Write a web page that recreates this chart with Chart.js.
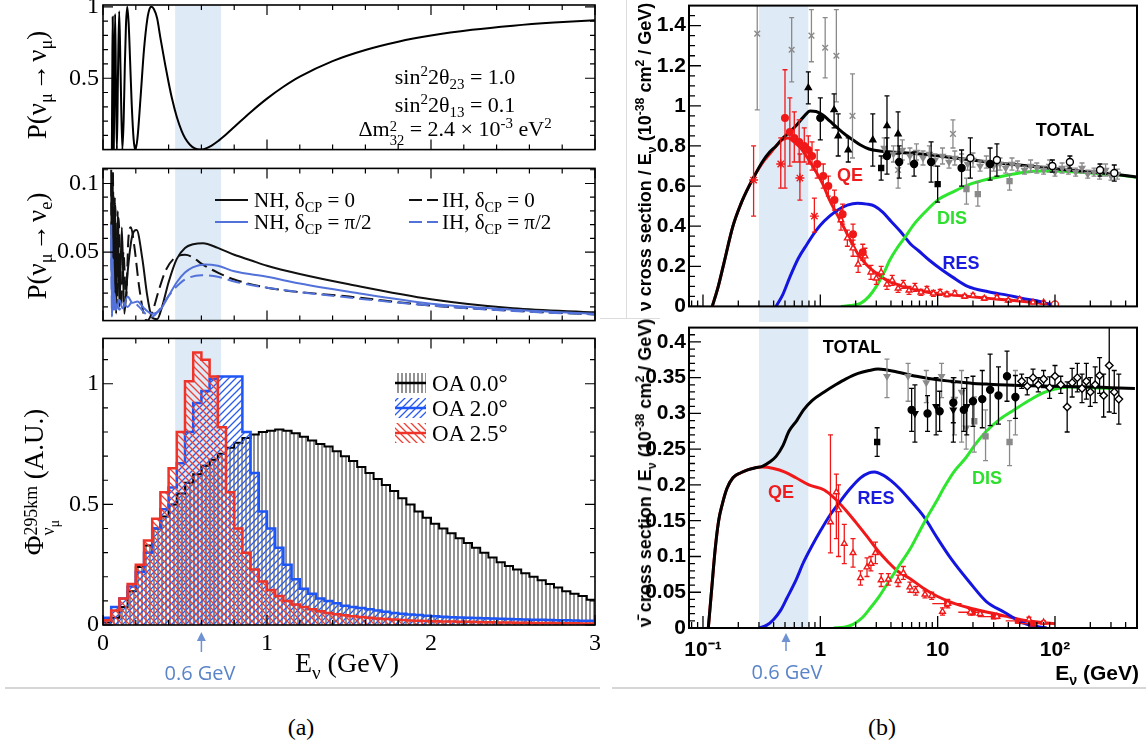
<!DOCTYPE html>
<html><head><meta charset="utf-8"><title>Oscillation, flux and cross sections</title>
<script src="https://cdn.jsdelivr.net/npm/chart.js@4.4.1/dist/chart.umd.min.js"></script>
<style>
html,body{margin:0;padding:0;background:#fff;}
body{width:1146px;height:749px;position:relative;overflow:hidden;}
canvas{position:absolute;}
.t{position:absolute;white-space:nowrap;line-height:1;}
.serif{font-family:'Liberation Serif','DejaVu Serif',serif;color:#000;}
.sans{font-family:'Liberation Sans',Arial,sans-serif;}
.b{font-weight:bold;}
.rot{transform:translate(-50%,-50%) rotate(-90deg);}
.ctr{transform:translate(-50%,-50%);}
.vm{transform:translateY(-50%);}
sub,sup{font-size:68%;line-height:0;}
.ss{display:inline-flex;flex-direction:column;font-size:66%;line-height:1.0;vertical-align:0.36em;text-align:left;}
.ss sub{font-size:80%;}
.gv{font-family:'Open Sans','Liberation Sans',sans-serif;font-size:20px;color:#5a84c8;}
</style></head>
<body>
<canvas id="cTL"></canvas><canvas id="cML"></canvas><canvas id="cBL"></canvas>
<canvas id="cTR"></canvas><canvas id="cBR"></canvas>

<div style="position:absolute;left:626px;top:0;width:1px;height:318px;background:#dcdcdc"></div>
<div style="position:absolute;left:600px;top:318px;width:60px;height:1px;background:#dcdcdc"></div>

<!-- panel (a) texts -->
<div class="t serif rot" style="left:37px;top:85px;font-size:27px">P(ν<sub>μ</sub>&#8202;→&#8202;ν<sub>μ</sub>)</div>
<div class="t serif rot" style="left:37px;top:246px;font-size:27px">P(ν<sub>μ</sub>&#8202;→&#8202;ν<sub>e</sub>)</div>
<div class="t serif rot" style="left:40px;top:482px;font-size:27px">Φ<span class="ss"><span>295km</span><span>ν<sub>μ</sub></span></span> (A.U.)</div>

<div class="t serif ctr" style="left:455px;top:77px;font-size:22px">sin<sup>2</sup>2θ<sub>23</sub> = 1.0</div>
<div class="t serif ctr" style="left:455px;top:105px;font-size:22px">sin<sup>2</sup>2θ<sub>13</sub> = 0.1</div>
<div class="t serif ctr" style="left:455px;top:133px;font-size:22px">Δm<span class="ss"><span>2</span><span>32</span></span> = 2.4 × 10<sup>-3</sup> eV<sup>2</sup></div>

<div class="t serif vm" style="left:254px;top:200px;font-size:21px">NH, δ<sub>CP</sub> = 0</div>
<div class="t serif vm" style="left:254px;top:222px;font-size:21px">NH, δ<sub>CP</sub> = π/2</div>
<div class="t serif vm" style="left:442px;top:200px;font-size:21px">IH, δ<sub>CP</sub> = 0</div>
<div class="t serif vm" style="left:442px;top:222px;font-size:21px">IH, δ<sub>CP</sub> = π/2</div>

<div class="t serif vm" style="left:432px;top:383px;font-size:23px">OA 0.0°</div>
<div class="t serif vm" style="left:432px;top:408px;font-size:23px">OA 2.0°</div>
<div class="t serif vm" style="left:432px;top:433px;font-size:23px">OA 2.5°</div>

<div class="t serif ctr" style="left:347px;top:663px;font-size:28px">E<sub>ν</sub> (GeV)</div>
<div class="t gv ctr" style="left:200px;top:673px">0.6 GeV</div>

<!-- panel (b) texts -->
<div class="t sans b rot" style="left:645px;top:157px;font-size:18px">ν cross section / E<sub>ν</sub> (10<sup>-38</sup> cm<sup>2</sup> / GeV)</div>
<div class="t sans b rot" style="left:645px;top:473px;font-size:18px">ν̄ cross section / E<sub>ν</sub> (10<sup>-38</sup> cm<sup>2</sup> / GeV)</div>

<div class="t sans b ctr" style="left:850px;top:175px;font-size:18px;color:#ee1c1c">QE</div>
<div class="t sans b ctr" style="left:952px;top:218px;font-size:18px;color:#2ee02e">DIS</div>
<div class="t sans b ctr" style="left:961px;top:263px;font-size:18px;color:#1a1ae0">RES</div>
<div class="t sans b ctr" style="left:1065px;top:130px;font-size:18px;color:#000">TOTAL</div>

<div class="t sans b ctr" style="left:852px;top:347px;font-size:18px;color:#000">TOTAL</div>
<div class="t sans b ctr" style="left:781px;top:492px;font-size:18px;color:#ee1c1c">QE</div>
<div class="t sans b ctr" style="left:876px;top:498px;font-size:18px;color:#1a1ae0">RES</div>
<div class="t sans b ctr" style="left:987px;top:478px;font-size:18px;color:#2ee02e">DIS</div>

<div class="t sans b vm" style="right:7px;top:672px;font-size:21px">E<sub>ν</sub> (GeV)</div>
<div class="t gv ctr" style="left:787px;top:672px">0.6 GeV</div>

<div style="position:absolute;left:5px;top:687px;width:595px;height:2px;background:#d6d6d6"></div>
<div style="position:absolute;left:612px;top:687px;width:534px;height:2px;background:#d6d6d6"></div>
<div class="t serif ctr" style="left:301px;top:727px;font-size:24px">(a)</div>
<div class="t serif ctr" style="left:882px;top:727px;font-size:24px">(b)</div>

<script>
// ---------------- DATA ----------------
// (a) top: P(numu -> numu)
const numuE = [0.054,0.0565,0.0592,0.062,0.0658,0.069,0.074,0.079,0.0846,0.091,0.0987,0.107,0.118,0.126,0.133,0.14,0.148,0.157,0.165,0.175,0.187,0.197,0.21,0.23,0.25,0.27,0.285,0.296,0.31,0.33,0.35,0.38,0.40,0.42,0.45,0.48,0.50,0.53,0.56,0.59,0.62,0.66,0.70,0.75,0.80,0.90,1.0,1.1,1.2,1.4,1.6,1.8,2.0,2.25,2.5,2.75,3.0];
const numuP = [0.0,0.5,0.93,0.5,0.0,0.45,0.95,0.45,0.0,0.5,0.97,0.55,0.0,0.21,0.58,0.87,1.0,0.87,0.63,0.32,0.07,0.0,0.078,0.381,0.701,0.913,0.99,1.0,0.985,0.92,0.783,0.59,0.47,0.361,0.228,0.129,0.081,0.034,0.008,0.0,0.005,0.026,0.058,0.106,0.158,0.262,0.357,0.44,0.511,0.62,0.698,0.756,0.799,0.839,0.868,0.89,0.907];

// (a) middle: P(numu -> nue)
const nh0E = [0.05,0.055,0.06,0.065,0.072,0.08,0.09,0.1,0.115,0.13,0.15,0.175,0.205,0.24,0.27,0.3,0.33,0.36,0.4,0.45,0.5,0.55,0.61,0.7,0.8,0.9,1.0,1.2,1.5,2.0,2.5,3.0];
const nh0P = [0.11,0.02,0.10,0.01,0.09,0.005,0.08,0.01,0.068,0.005,0.035,0.06,0.066,0.045,0.018,0.002,0.001,0.01,0.028,0.045,0.053,0.0557,0.0565,0.053,0.048,0.044,0.040,0.034,0.0265,0.0156,0.009,0.006];
const ih0E = [0.05,0.055,0.06,0.067,0.075,0.085,0.095,0.11,0.125,0.14,0.155,0.17,0.19,0.22,0.25,0.27,0.3,0.34,0.38,0.43,0.5,0.55,0.6,0.7,0.8,1.0,1.5,2.0,2.5,3.0];
const ih0P = [0.10,0.03,0.11,0.02,0.085,0.01,0.075,0.01,0.05,0.015,0.06,0.068,0.055,0.025,0.004,0.0,0.006,0.022,0.036,0.045,0.048,0.046,0.0415,0.035,0.030,0.024,0.0175,0.011,0.0072,0.0045];
const nhpE = [0.05,0.055,0.06,0.065,0.07,0.08,0.1,0.12,0.15,0.18,0.21,0.25,0.3,0.35,0.4,0.45,0.5,0.55,0.62,0.7,0.8,1.0,1.2,1.5,2.0,2.5,3.0];
const nhpP = [0.07,0.005,0.045,0.01,0.02,0.008,0.015,0.009,0.0175,0.013,0.014,0.009,0.005,0.008,0.018,0.028,0.035,0.039,0.041,0.04,0.036,0.032,0.027,0.021,0.0123,0.008,0.005];
const ihpE = [0.05,0.055,0.06,0.07,0.08,0.1,0.12,0.15,0.18,0.22,0.27,0.3,0.35,0.4,0.45,0.5,0.6,0.7,0.8,1.0,1.5,2.0,2.5,3.0];
const ihpP = [0.06,0.003,0.03,0.006,0.012,0.008,0.013,0.01,0.014,0.01,0.004,0.003,0.009,0.018,0.025,0.03,0.033,0.032,0.0285,0.024,0.0168,0.011,0.007,0.0045];

// (a) bottom: flux histograms, 0.05 GeV bins from 0 to 3 GeV
const binW = 0.05;
const oa00 = [0.01,0.03,0.075,0.14,0.24,0.33,0.40,0.45,0.50,0.545, 0.59,0.625,0.66,0.685,0.71,0.735,0.755,0.775,0.79,0.80, 0.805,0.81,0.805,0.795,0.78,0.765,0.75,0.74,0.72,0.70, 0.68,0.655,0.63,0.605,0.58,0.555,0.525,0.50,0.47,0.445, 0.42,0.40,0.38,0.36,0.34,0.32,0.30,0.28,0.26,0.245, 0.23,0.215,0.20,0.185,0.17,0.155,0.14,0.13,0.12,0.105];
const oa20 = [0.03,0.075,0.11,0.16,0.22,0.30,0.40,0.48,0.57,0.67, 0.80,0.92,0.97,1.02,1.03,1.03,1.03,0.80,0.63,0.47, 0.40,0.32,0.25,0.19,0.15,0.13,0.11,0.10,0.09,0.08, 0.075,0.07,0.065,0.06,0.055,0.05,0.047,0.044,0.041,0.038, 0.036,0.034,0.032,0.031,0.03,0.029,0.028,0.027,0.026,0.025, 0.024,0.023,0.022,0.022,0.021,0.02,0.02,0.019,0.018,0.018];
const oa25 = [0.02,0.06,0.11,0.17,0.25,0.35,0.44,0.55,0.65,0.80, 1.01,1.13,1.10,1.03,0.82,0.55,0.40,0.30,0.23,0.18, 0.145,0.12,0.10,0.085,0.075,0.065,0.057,0.05,0.045,0.04, 0.036,0.033,0.03,0.027,0.025,0.023,0.021,0.019,0.018,0.017, 0.016,0.015,0.014,0.013,0.013,0.012,0.011,0.011,0.01,0.01, 0.009,0.009,0.008,0.008,0.008,0.007,0.007,0.007,0.006,0.006];

const leftBand = [0.44, 0.72];
const leftArrowE = 0.6;
const leftXTicks = [0, 1, 2, 3];
const leftXLabels = ['0', '1', '2', '3'];
const tlYTicks = [0.5, 1];       const tlYLabels = ['0.5', '1'];
const mlYTicks = [0.05, 0.1];    const mlYLabels = ['0.05', '0.1'];
const blYTicks = [0, 0.5, 1];    const blYLabels = ['0', '0.5', '1'];

// (b) top: neutrino cross section / E
const nuTotE = [0.12,0.135,0.15,0.18,0.21,0.24,0.28,0.32,0.37,0.42,0.48,0.55,0.64,0.72,0.82,0.92,1.05,1.2,1.4,1.65,1.9,2.2,2.6,3.2,4,5.5,8,12,18,27,40,60,100,160,250,350,500];
const nuTotY = [0,0.1,0.21,0.40,0.51,0.585,0.66,0.72,0.77,0.80,0.84,0.87,0.91,0.945,0.975,0.972,0.955,0.925,0.89,0.855,0.83,0.805,0.785,0.775,0.77,0.765,0.757,0.745,0.732,0.72,0.71,0.70,0.686,0.675,0.665,0.656,0.645];
const nuQEE = [0.12,0.135,0.15,0.18,0.21,0.24,0.28,0.32,0.37,0.42,0.47,0.53,0.6,0.68,0.78,0.9,1.05,1.2,1.4,1.6,1.8,2.1,2.5,3,3.7,4.5,5.8,8,12,18,27,40,60,80,100];
const nuQEY = [0,0.1,0.21,0.40,0.51,0.585,0.66,0.715,0.76,0.80,0.83,0.84,0.82,0.79,0.74,0.68,0.61,0.53,0.455,0.39,0.33,0.26,0.205,0.165,0.13,0.11,0.09,0.072,0.06,0.05,0.04,0.032,0.022,0.015,0.01];
const nuRESE = [0.42,0.48,0.55,0.65,0.77,0.9,1.0,1.2,1.4,1.7,2.07,2.5,2.9,3.4,4.0,4.8,5.9,6.8,8.5,11,13.4,18,27,40,53,70,93];
const nuRESY = [0,0.06,0.146,0.24,0.31,0.37,0.405,0.45,0.48,0.505,0.515,0.51,0.50,0.47,0.425,0.375,0.31,0.28,0.23,0.18,0.146,0.10,0.073,0.055,0.04,0.028,0.008];
const nuDISE = [1.5,1.8,2.2,2.6,3.0,3.5,3.9,4.5,5.2,6.3,7.8,10,13.4,18,27,40,53,80,120,200,350,500];
const nuDISY = [0,0.004,0.015,0.05,0.10,0.17,0.23,0.29,0.34,0.41,0.47,0.53,0.57,0.605,0.635,0.655,0.668,0.675,0.674,0.665,0.655,0.643];

// (b) top: measurements
const nuXE = [0.29,0.57,0.84,1.10,1.37,1.88,4.6,13.5];
const nuXY = [1.36,1.28,1.35,1.29,1.25,0.95,0.68,0.86];
const nuXLo = [0.98,1.12,1.22,1.14,1.02,0.74,0.59,0.79];
const nuXHi = [1.50,1.44,1.48,1.44,1.48,1.16,0.77,0.93];
const nuTriE = [0.79,1.31,1.42,1.73,2.8,3.7,4.6];
const nuTriY = [1.09,0.98,0.85,0.78,0.83,0.90,0.86];
const nuTriLo = [1.01,0.89,0.75,0.72,0.70,0.75,0.76];
const nuTriHi = [1.17,1.06,0.96,0.84,0.96,1.05,0.97];
const nuCirE = [1.0,3.7,4.7,6.3,8.8,16,28];
const nuCirY = [0.94,0.75,0.72,0.71,0.72,0.69,0.71];
const nuCirLo = [0.83,0.66,0.64,0.65,0.62,0.60,0.63];
const nuCirHi = [1.04,0.84,0.80,0.77,0.82,0.78,0.79];
const nuSqE = [3.3,10];
const nuSqY = [0.69,0.61];
const nuSqLo = [0.63,0.52];
const nuSqHi = [0.75,0.70];
const nuGsE = [17.6,22,41];
const nuGsY = [0.585,0.56,0.625];
const nuGsLo = [0.51,0.50,0.58];
const nuGsHi = [0.64,0.62,0.66];
const nuGdE = [3.5,4.2,5,5.8,6.6,7.5,8.5,9.5,11,12.5,14,16,18,20,23,26,30,34,38,43,48,55,62,70,80,90,100,115,130,150,170,190,215,240,270,300,340];
const nuGdY = [0.79,0.76,0.78,0.75,0.77,0.74,0.76,0.73,0.75,0.72,0.74,0.73,0.71,0.73,0.70,0.72,0.70,0.71,0.69,0.71,0.70,0.68,0.70,0.69,0.68,0.70,0.67,0.69,0.68,0.67,0.69,0.66,0.67,0.66,0.68,0.65,0.66];
const nuGdErr = [0.05,0.04,0.05,0.04,0.04,0.035,0.04,0.03,0.04,0.03,0.035,0.03,0.03,0.035,0.025,0.03,0.025,0.03,0.025,0.03,0.025,0.02,0.03,0.025,0.02,0.03,0.02,0.025,0.02,0.02,0.025,0.02,0.02,0.025,0.03,0.02,0.025];
const nuOcE = [19,32,95,134,242,320];
const nuOcY = [0.74,0.73,0.70,0.72,0.68,0.665];
const nuOcErr = [0.1,0.08,0.03,0.03,0.03,0.04];
const nuRcE = [0.50,0.55,0.60,0.66,0.73,0.79,0.85,0.94,1.06,1.17,1.32,1.55,1.9,2.3];
const nuRcY = [0.94,0.87,0.84,0.82,0.80,0.78,0.75,0.71,0.65,0.60,0.53,0.46,0.36,0.27];
const nuRcLo = [0.59,0.70,0.72,0.72,0.72,0.71,0.68,0.64,0.59,0.55,0.48,0.41,0.31,0.23];
const nuRcHi = [1.18,1.04,0.97,0.93,0.89,0.85,0.82,0.78,0.71,0.65,0.58,0.51,0.41,0.31];
const nuRsE = [0.27,0.46,0.67,0.89];
const nuRsY = [0.63,0.71,0.64,0.45];
const nuRsLo = [0.45,0.59,0.53,0.37];
const nuRsHi = [0.80,0.84,0.76,0.54];
const nuRtE = [1.5,1.7,1.9,2.1,2.4,2.7,3.0,3.3,3.7,4.1,4.6,5.1,5.7,6.4,7.2,8.1,9.2,10.5,12,14,17,20,25,32,40,50,65,80];
const nuRtY = [0.43,0.34,0.29,0.21,0.25,0.17,0.14,0.17,0.11,0.13,0.09,0.11,0.08,0.095,0.07,0.085,0.065,0.07,0.06,0.065,0.05,0.055,0.04,0.045,0.03,0.035,0.02,0.02];
const nuRtErr = [0.05,0.04,0.04,0.04,0.04,0.035,0.03,0.03,0.025,0.025,0.02,0.02,0.02,0.02,0.015,0.015,0.015,0.015,0.012,0.012,0.01,0.01,0.01,0.01,0.008,0.008,0.006,0.006];
const nuRoE = [100];
const nuRoY = [0.01];

// (b) bottom: antineutrino cross section / E
const nbTotE = [0.111,0.118,0.127,0.136,0.146,0.16,0.18,0.21,0.24,0.28,0.32,0.37,0.42,0.48,0.54,0.63,0.72,0.85,1.08,1.35,1.64,2.1,2.6,3.1,3.6,4.5,6.6,10,13,20,26,50,105,200,300,480];
const nbTotY = [0,0.05,0.11,0.15,0.173,0.195,0.21,0.217,0.221,0.224,0.226,0.232,0.24,0.255,0.275,0.29,0.305,0.318,0.33,0.34,0.348,0.356,0.36,0.362,0.361,0.358,0.352,0.347,0.345,0.342,0.341,0.339,0.338,0.337,0.336,0.335];
const nbQEE = [0.111,0.118,0.127,0.136,0.146,0.16,0.18,0.21,0.24,0.28,0.32,0.4,0.5,0.62,0.8,1.08,1.35,1.64,2.0,2.5,3.1,3.8,4.6,5.7,7.5,10,14,18.7,25,37,50,74,100];
const nbQEY = [0,0.05,0.11,0.15,0.173,0.195,0.21,0.217,0.221,0.224,0.225,0.223,0.218,0.21,0.2,0.193,0.18,0.165,0.148,0.128,0.108,0.092,0.079,0.07,0.056,0.044,0.034,0.028,0.023,0.017,0.012,0.008,0.006];
const nbRESE = [0.30,0.35,0.40,0.46,0.52,0.62,0.72,0.85,1.02,1.2,1.43,1.8,2.2,2.6,2.9,3.4,4.0,4.8,5.8,7.6,10,13,18.7,26,37,52,70,85];
const nbRESY = [0,0.004,0.012,0.025,0.042,0.067,0.092,0.115,0.138,0.157,0.174,0.195,0.21,0.217,0.218,0.214,0.206,0.194,0.179,0.156,0.125,0.097,0.064,0.037,0.022,0.008,0.002,0];
const nbDISE = [1.3,1.6,1.9,2.3,2.7,3.2,3.8,4.6,5.8,7,8.2,10,11.4,14,17.4,21,26,34,45,60,80,100,130,200,300];
const nbDISY = [0,0.001,0.005,0.015,0.029,0.045,0.064,0.085,0.11,0.135,0.156,0.18,0.197,0.22,0.238,0.257,0.275,0.292,0.305,0.318,0.329,0.334,0.337,0.336,0.335];

// (b) bottom: measurements
const nbSqE = [3.05];  const nbSqY = [0.26];  const nbSqLo = [0.24];  const nbSqHi = [0.28];
const nbGtE = [3.7,5.6,8.0,10.8,13.9,16,17.5,46];
const nbGtY = [0.352,0.352,0.343,0.352,0.32,0.33,0.28,0.32];
const nbGtLo = [0.322,0.317,0.315,0.322,0.27,0.26,0.25,0.27];
const nbGtHi = [0.376,0.37,0.36,0.37,0.35,0.36,0.31,0.36];
const nbBtE = [6.4,9.7,13.6,17.7];
const nbBtY = [0.30,0.31,0.305,0.31];
const nbBtErr = [0.04,0.04,0.045,0.04];
const nbCirE = [6.0,8.2,10.4,13.6,16.7,20,24,28,33,39,46];
const nbCirY = [0.305,0.30,0.303,0.315,0.305,0.317,0.32,0.333,0.325,0.352,0.323];
const nbCirErr = [0.03,0.025,0.028,0.028,0.03,0.035,0.04,0.05,0.04,0.035,0.03];
const nbGsE = [20.5,25.6,41];
const nbGsY = [0.289,0.268,0.26];
const nbGsLo = [0.246,0.234,0.227];
const nbGsHi = [0.323,0.305,0.29];
const nbOpE = [52,58,65,72,80,90,100,112,127,140,155,170,185,200,220,240,260,290,320,350];
const nbOpY = [0.345,0.338,0.35,0.34,0.348,0.336,0.352,0.34,0.309,0.343,0.35,0.335,0.345,0.33,0.34,0.353,0.325,0.367,0.33,0.32];
const nbOpErr = [0.01,0.012,0.012,0.01,0.012,0.015,0.015,0.012,0.035,0.02,0.02,0.02,0.025,0.02,0.025,0.025,0.03,0.065,0.03,0.035];
const nbRtE = [1.22,1.37,1.43,1.6,1.9,2.2,2.5,2.7,2.95,3.3,3.8,4.6,5.1,5.8,6.5,7.8,8.9,11,12.2,19,23,32,60,80];
const nbRtY = [0.148,0.19,0.165,0.118,0.105,0.07,0.085,0.09,0.105,0.067,0.068,0.066,0.077,0.057,0.052,0.047,0.045,0.023,0.034,0.022,0.02,0.016,0.012,0.008];
const nbRtLo = [0.105,0.125,0.10,0.09,0.085,0.06,0.072,0.08,0.09,0.058,0.06,0.058,0.068,0.05,0.046,0.042,0.04,0.018,0.028,0.018,0.016,0.013,0.009,0.006];
const nbRtHi = [0.27,0.215,0.20,0.145,0.125,0.08,0.098,0.10,0.12,0.076,0.076,0.074,0.086,0.064,0.058,0.052,0.05,0.028,0.04,0.026,0.024,0.019,0.015,0.01];
const nbRsE = [12,20,30,48,65];
const nbRsY = [0.034,0.022,0.016,0.01,0.006];
const nbRsErr = [0.004,0.004,0.003,0.003,0.003];
const nbRsXLo = [9,15,24,38,50];
const nbRsXHi = [16,26,38,60,100];

const rightBand = [0.3, 0.79];
const rightArrowE = 0.51;
const rightXTicks = [0.1, 1, 10, 100];
const rightXLabels = ['10⁻¹', '1', '10', '10²'];
const rightXMinor = [0.08,0.09,0.2,0.3,0.4,0.5,0.6,0.7,0.8,0.9,2,3,4,5,6,7,8,9,20,30,40,50,60,70,80,90,200,300,400,500];
const trYTicks = [0,0.2,0.4,0.6,0.8,1,1.2,1.4];
const trYLabels = ['0','0.2','0.4','0.6','0.8','1','1.2','1.4'];
const brYTicks = [0,0.05,0.1,0.15,0.2,0.25,0.3,0.35,0.4];
const brYLabels = ['0','0.05','0.1','0.15','0.2','0.25','0.3','0.35','0.4'];

// ---------------- HELPERS ----------------
function seq(a, b, s, majorStep){ const r=[]; for(let k=0;;k++){ const v=+(a+k*s).toFixed(5); if(v>b+1e-9) break; const q=v/majorStep; if(Math.abs(q-Math.round(q))>1e-6) r.push(v);} return r; }
const pts = (xs, ys) => xs.map((x,i)=>({x, y:ys[i]}));
const ept = (xs, ys, lo, hi) => xs.map((x,i)=>({x, y:ys[i], lo:lo[i], hi:hi[i]}));
const eps = (xs, ys, e) => xs.map((x,i)=>({x, y:ys[i], lo:ys[i]-e[i], hi:ys[i]+e[i]}));
function histPts(v){ const p=[{x:0,y:0}]; v.forEach((y,i)=>p.push({x:+(i*binW).toFixed(4), y})); p.push({x:+(v.length*binW).toFixed(4), y:v[v.length-1]}); return p; }

function hatch(color, kind, size, lw){
  const c=document.createElement('canvas'); c.width=size; c.height=size; const g=c.getContext('2d');
  g.strokeStyle=color; g.lineWidth=lw; g.beginPath();
  if(kind==='v'){ g.moveTo(size/2,0); g.lineTo(size/2,size); }
  else if(kind==='/'){ g.moveTo(0,size); g.lineTo(size,0); g.moveTo(-size/2,size/2); g.lineTo(size/2,-size/2); g.moveTo(size/2,size*1.5); g.lineTo(size*1.5,size/2); }
  else { g.moveTo(0,0); g.lineTo(size,size); g.moveTo(-size/2,size/2); g.lineTo(size/2,size*1.5); g.moveTo(size/2,-size/2); g.lineTo(size*1.5,size/2); }
  g.stroke();
  return g.createPattern(c,'repeat');
}
const patBlack = hatch('rgba(0,0,0,0.85)','v',4,1);
const patBlue  = hatch('#2a5cf0','/',7,1.3);
const patRed   = hatch('#ee4035','\\',7,1.3);

const C = { black:'#000', blueHist:'#1e55f5', redHist:'#ee3329', blueLine:'#5271d9',
  red:'#f01818', blue:'#1515e0', green:'#2ee62e', gray:'#8a8a8a', band:'rgb(222,234,246)' };

const rootAxes = {
  id:'rootAxes',
  beforeDatasetsDraw(chart, args, o){
    if(!o || !o.band) return;
    const a=chart.chartArea, xs=chart.scales.x, ctx=chart.ctx;
    const x0=xs.getPixelForValue(o.band[0]), x1=xs.getPixelForValue(o.band[1]);
    const t = o.bandToCanvasTop ? 0 : a.top;
    const b = o.bandToCanvasBottom ? chart.height : a.bottom;
    ctx.save(); ctx.fillStyle=o.bandColor; ctx.fillRect(x0,t,x1-x0,b-t); ctx.restore();
  },
  beforeDatasetDraw(chart, args){
    const ds=chart.data.datasets[args.index];
    if(!ds.errorBars) return;
    const ctx=chart.ctx, a=chart.chartArea, xs=chart.scales.x, ys=chart.scales.y;
    ctx.save(); ctx.beginPath(); ctx.rect(a.left,a.top,a.right-a.left,a.bottom-a.top); ctx.clip();
    ctx.strokeStyle=ds.errColor; ctx.lineWidth=ds.errWidth||1.3;
    const cap=ds.capSize===undefined?2.5:ds.capSize;
    ctx.beginPath();
    args.meta.data.forEach((el,i)=>{
      const r=ds.data[i], px=el.x, py=el.y;
      if(r.lo!==undefined){ const y0=ys.getPixelForValue(r.lo), y1=ys.getPixelForValue(r.hi);
        ctx.moveTo(px,y0); ctx.lineTo(px,y1);
        if(cap){ ctx.moveTo(px-cap,y0); ctx.lineTo(px+cap,y0); ctx.moveTo(px-cap,y1); ctx.lineTo(px+cap,y1); } }
      if(r.xlo!==undefined){ const x0=xs.getPixelForValue(r.xlo), x1=xs.getPixelForValue(r.xhi);
        ctx.moveTo(x0,py); ctx.lineTo(x1,py); }
    });
    ctx.stroke(); ctx.restore();
  },
  afterDatasetsDraw(chart, args, o){
    if(!o || !o.frame) return;
    const ctx=chart.ctx, a=chart.chartArea, xs=chart.scales.x, ys=chart.scales.y;
    ctx.save(); ctx.strokeStyle='#000';
    ctx.lineWidth=o.tickWidth; ctx.beginPath();
    const tk=(vals,len,axis)=>{ (vals||[]).forEach(v=>{
      if(axis==='x'){ const p=xs.getPixelForValue(v); if(p<a.left-0.5||p>a.right+0.5) return;
        if(o.tBottom){ ctx.moveTo(p,a.bottom); ctx.lineTo(p,a.bottom-len); }
        if(o.tTop){ ctx.moveTo(p,a.top); ctx.lineTo(p,a.top+len); } }
      else { const p=ys.getPixelForValue(v); if(p<a.top-0.5||p>a.bottom+0.5) return;
        if(o.tLeft){ ctx.moveTo(a.left,p); ctx.lineTo(a.left+len,p); }
        if(o.tRight){ ctx.moveTo(a.right,p); ctx.lineTo(a.right-len,p); } } }); };
    tk(o.xMajor,o.majLen,'x'); tk(o.xMinor,o.minLen,'x'); tk(o.yMajor,o.majLen,'y'); tk(o.yMinor,o.minLen,'y');
    ctx.stroke();
    ctx.lineWidth=o.frame; ctx.strokeRect(a.left,a.top,a.right-a.left,a.bottom-a.top);
    ctx.restore();
  }
};
Chart.register(rootAxes);

function axis(type, min, max, ticksArr, labels, font, pad, show){
  return { type, min, max, bounds:'data', grid:{display:false, drawTicks:false}, border:{display:false},
    afterBuildTicks: s => { s.ticks = ticksArr.map(v=>({value:v})); },
    ticks:{ display:show, autoSkip:false, maxRotation:0, minRotation:0, padding:pad, color:'#000', font,
      callback:(v,i)=>labels[i] } };
}

function mk(id, box, area, datasets, xAx, yAx, rootOpts, extra){
  const cv=document.getElementById(id);
  cv.style.left=box.l+'px'; cv.style.top=box.t+'px';
  cv.width=box.w; cv.height=box.h; cv.style.width=box.w+'px'; cv.style.height=box.h+'px';
  const yW=area.l-box.l, xH=box.t+box.h-area.b;
  xAx.afterFit = s => { s.height = xH; };
  yAx.afterFit = s => { s.width = yW; };
  return new Chart(cv, { type:'line', data:{datasets},
    options:{ responsive:false, animation:false, devicePixelRatio:1, events:[],
      layout:{padding:{top:area.t-box.t, right:box.l+box.w-area.r, left:0, bottom:0}},
      scales:{x:xAx, y:yAx},
      plugins:{legend:{display:false}, tooltip:{enabled:false}, rootAxes:rootOpts} },
    plugins: extra||[] });
}

function drawArrow(ctx, x, yTail, yHead, color){
  ctx.save(); ctx.strokeStyle=color; ctx.fillStyle=color; ctx.lineWidth=1.5;
  ctx.beginPath(); ctx.moveTo(x,yTail); ctx.lineTo(x,yHead+6); ctx.stroke();
  ctx.beginPath(); ctx.moveTo(x,yHead); ctx.lineTo(x-4.5,yHead+9); ctx.lineTo(x+4.5,yHead+9); ctx.closePath(); ctx.fill();
  ctx.restore();
}

const serif24 = {family:"'Liberation Serif', 'DejaVu Serif', serif", size:24};
const sansB21 = {family:"'Liberation Sans', Arial, sans-serif", size:21, weight:'bold'};
const curve = (data, color, w, dash, order) => ({ data, borderColor:color, borderWidth:w, borderDash:dash||[], pointRadius:0,
  tension:0.4, cubicInterpolationMode:'monotone', fill:false, order: order||20 });
const marks = (data, style, color, bg, r, order, extra) => Object.assign({ data, showLine:false, pointStyle:style,
  pointRadius:r, pointBorderColor:color, pointBackgroundColor:bg, pointBorderWidth:1.4, errorBars:true, errColor:color, order }, extra||{});

// ---------------- PANEL (a) ----------------
const leftXMinor = seq(0, 3, 0.2, 1);
const leftCommon = { band:leftBand, bandColor:C.band, frame:1.6, tickWidth:1.2, majLen:10, minLen:5,
  tTop:true, tBottom:true, tLeft:true, tRight:true, xMajor:leftXTicks, xMinor:leftXMinor };

mk('cTL', {l:0,t:-15,w:610,h:183}, {l:103,t:5,r:595,b:163},
  [ curve(pts(numuE, numuP), '#000', 2) ],
  axis('linear', 0, 3, leftXTicks, leftXLabels, serif24, 4, false),
  axis('linear', 0, 1.013, tlYTicks, tlYLabels, serif24, 4, true),
  Object.assign({}, leftCommon, { yMajor:tlYTicks, yMinor:seq(0.1, 1, 0.1, 0.5) }));

const mlLegend = { id:'mlLegend', afterDraw(chart){
  const ctx=chart.ctx, oy=150;
  const ln=(x0,x1,y,color,dash)=>{ ctx.save(); ctx.strokeStyle=color; ctx.lineWidth=2.2; ctx.setLineDash(dash);
    ctx.beginPath(); ctx.moveTo(x0,y-oy); ctx.lineTo(x1,y-oy); ctx.stroke(); ctx.restore(); };
  ln(215,248,200,'#111',[]); ln(215,248,222,C.blueLine,[]);
  ln(409,438,200,'#111',[13,5]); ln(409,438,222,C.blueLine,[13,5]);
}};
mk('cML', {l:0,t:150,w:610,h:189}, {l:103,t:163,r:595,b:334},
  [ curve(pts(nhpE, nhpP), C.blueLine, 2),
    curve(pts(ihpE, ihpP), C.blueLine, 2, [13,6]),
    curve(pts(ih0E, ih0P), '#111', 2, [13,6]),
    curve(pts(nh0E, nh0P), '#111', 2) ],
  axis('linear', 0, 3, leftXTicks, leftXLabels, serif24, 4, false),
  axis('linear', 0, 0.111, mlYTicks, mlYLabels, serif24, 4, true),
  Object.assign({}, leftCommon, { yMajor:mlYTicks, yMinor:seq(0.01, 0.11, 0.01, 0.05) }), [mlLegend]);

const blDecor = { id:'blDecor', afterDraw(chart){
  const ctx=chart.ctx, oy=320, a=chart.chartArea;
  const box=(y,pat,color)=>{ ctx.save(); ctx.fillStyle=pat; ctx.fillRect(395,y-10-oy,31,20);
    ctx.strokeStyle=color; ctx.lineWidth=2.5; ctx.beginPath(); ctx.moveTo(395,y-oy); ctx.lineTo(426,y-oy); ctx.stroke(); ctx.restore(); };
  box(383,patBlack,'#000'); box(408,patBlue,C.blueHist); box(433,patRed,C.redHist);
  drawArrow(ctx, chart.scales.x.getPixelForValue(leftArrowE), a.bottom+27, a.bottom+7, '#6f93d2');
}};
const hist = (vals, pat, color, w, order) => ({ data:histPts(vals), stepped:'before', borderColor:color, borderWidth:w,
  backgroundColor:pat, fill:'origin', pointRadius:0, order });
mk('cBL', {l:0,t:320,w:610,h:360}, {l:103,t:334,r:595,b:625},
  [ hist(oa25, patRed, C.redHist, 2.5, 1),
    hist(oa20, patBlue, C.blueHist, 2.5, 2),
    hist(oa00, patBlack, '#000', 2, 3) ],
  axis('linear', 0, 3, leftXTicks, leftXLabels, serif24, 4, true),
  axis('linear', 0, 1.188, blYTicks, blYLabels, serif24, 4, true),
  Object.assign({}, leftCommon, { yMajor:blYTicks, yMinor:seq(0.1, 1.1, 0.1, 0.5) }), [blDecor]);

// ---------------- PANEL (b) ----------------
const rightCommon = { band:rightBand, bandColor:C.band, frame:2, tickWidth:1.3, majLen:12, minLen:6,
  tTop:false, tBottom:true, tLeft:true, tRight:false, xMajor:rightXTicks, xMinor:rightXMinor };

mk('cTR', {l:600,t:-10,w:546,h:332}, {l:689,t:3,r:1137,b:310},
  [ marks(ept(nuRcE,nuRcY,nuRcLo,nuRcHi),'circle',C.red,C.red,3.3,1),
    marks(ept(nuRsE,nuRsY,nuRsLo,nuRsHi),'star',C.red,'#fff',4.5,1),
    marks(eps(nuRtE,nuRtY,nuRtErr),'triangle',C.red,'#fff',3.3,1),
    marks(pts(nuRoE,nuRoY),'circle',C.red,'#fff',3.5,1,{errorBars:false}),
    marks(ept(nuTriE,nuTriY,nuTriLo,nuTriHi),'triangle','#000','#000',3.5,2),
    marks(ept(nuCirE,nuCirY,nuCirLo,nuCirHi),'circle','#000','#000',3.5,2),
    marks(ept(nuSqE,nuSqY,nuSqLo,nuSqHi),'rect','#000','#000',3.5,2),
    marks(eps(nuOcE,nuOcY,nuOcErr),'circle','#000','#fff',3.5,2),
    marks(ept(nuGsE,nuGsY,nuGsLo,nuGsHi),'rect',C.gray,C.gray,3.5,3),
    marks(eps(nuGdE,nuGdY,nuGdErr),'triangle',C.gray,C.gray,3.2,3,{pointRotation:180}),
    marks(ept(nuXE,nuXY,nuXLo,nuXHi),'crossRot',C.gray,C.gray,4,3),
    curve(pts(nuDISE,nuDISY), C.green, 3),
    curve(pts(nuRESE,nuRESY), C.blue, 3),
    curve(pts(nuQEE,nuQEY), C.red, 3),
    curve(pts(nuTotE,nuTotY), '#000', 3, [], 10) ],
  axis('logarithmic', 0.076, 500, rightXTicks, rightXLabels, sansB21, 10, false),
  axis('linear', 0, 1.5, trYTicks, trYLabels, sansB21, 3, true),
  Object.assign({}, rightCommon, { yMajor:trYTicks, yMinor:seq(0.05, 1.45, 0.05, 0.2), bandToCanvasBottom:true }));

const brDecor = { id:'brDecor', afterDraw(chart){
  const a=chart.chartArea;
  drawArrow(chart.ctx, chart.scales.x.getPixelForValue(rightArrowE), a.bottom+23, a.bottom+5, '#6f93d2');
}};
mk('cBR', {l:600,t:312,w:546,h:350}, {l:689,t:322,r:1137,b:628},
  [ marks(ept(nbRtE,nbRtY,nbRtLo,nbRtHi),'triangle',C.red,'#fff',3.3,1),
    marks(nbRsE.map((x,i)=>({x, y:nbRsY[i], lo:nbRsY[i]-nbRsErr[i], hi:nbRsY[i]+nbRsErr[i], xlo:nbRsXLo[i], xhi:nbRsXHi[i]})),'rect',C.red,C.red,3,1),
    marks(ept(nbSqE,nbSqY,nbSqLo,nbSqHi),'rect','#000','#000',3.5,2),
    marks(eps(nbCirE,nbCirY,nbCirErr),'circle','#000','#000',3.5,2),
    marks(eps(nbBtE,nbBtY,nbBtErr),'triangle','#000','#000',3.3,2,{pointRotation:180}),
    marks(eps(nbOpE,nbOpY,nbOpErr),'rectRot','#000','#fff',3.8,2),
    marks(ept(nbGsE,nbGsY,nbGsLo,nbGsHi),'rect',C.gray,C.gray,3.5,3),
    marks(ept(nbGtE,nbGtY,nbGtLo,nbGtHi),'triangle',C.gray,C.gray,3.2,3,{pointRotation:180}),
    curve(pts(nbDISE,nbDISY), C.green, 3),
    curve(pts(nbRESE,nbRESY), C.blue, 3),
    curve(pts(nbQEE,nbQEY), C.red, 3),
    curve(pts(nbTotE,nbTotY), '#000', 3, [], 10) ],
  axis('logarithmic', 0.076, 500, rightXTicks, rightXLabels, sansB21, 10, true),
  axis('linear', 0, 0.42, brYTicks, brYLabels, sansB21, 3, true),
  Object.assign({}, rightCommon, { yMajor:brYTicks, yMinor:seq(0.01, 0.41, 0.01, 0.05) }), [brDecor]);
</script>
</body></html>
